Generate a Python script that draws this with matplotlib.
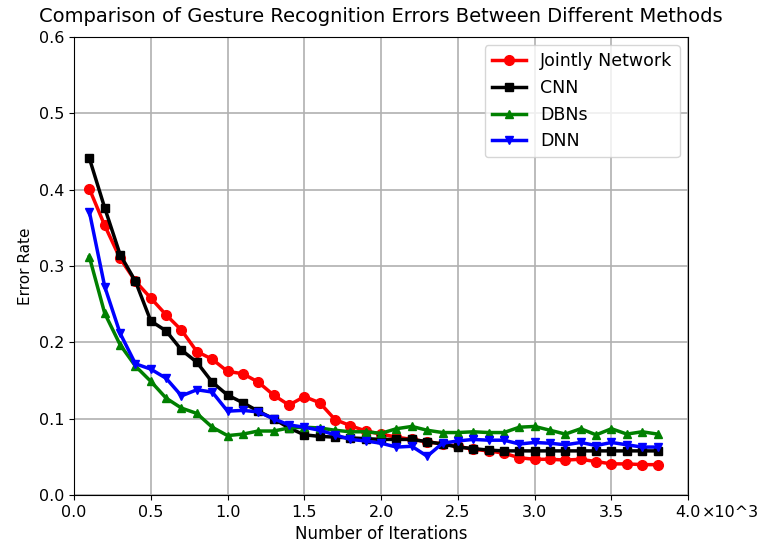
import numpy as np
import matplotlib
matplotlib.use("Agg")
import matplotlib.pyplot as plt

# iterations (x10^3)
iters = [0.1, 0.2, 0.3, 0.4, 0.5, 0.6, 0.7, 0.8, 0.9, 1.0,
         1.1, 1.2, 1.3, 1.4, 1.5, 1.6, 1.7, 1.8, 1.9, 2.0,
         2.1, 2.2, 2.3, 2.4, 2.5, 2.6, 2.7, 2.8, 2.9, 3.0,
         3.1, 3.2, 3.3, 3.4, 3.5, 3.6, 3.7, 3.8]

jointly = [0.401, 0.353, 0.310, 0.280, 0.258, 0.236, 0.216, 0.188, 0.178, 0.162,
           0.159, 0.148, 0.131, 0.118, 0.129, 0.121, 0.099, 0.091, 0.084, 0.080,
           0.076, 0.073, 0.070, 0.067, 0.064, 0.060, 0.058, 0.055, 0.049, 0.047,
           0.047, 0.046, 0.047, 0.044, 0.041, 0.041, 0.040, 0.040]

cnn = [0.441, 0.376, 0.315, 0.280, 0.228, 0.215, 0.190, 0.174, 0.148, 0.131,
       0.121, 0.110, 0.100, 0.088, 0.079, 0.077, 0.076, 0.075, 0.074, 0.073,
       0.073, 0.073, 0.070, 0.067, 0.063, 0.061, 0.059, 0.058, 0.058, 0.058,
       0.058, 0.058, 0.058, 0.058, 0.058, 0.058, 0.058, 0.058]

dbns = [0.312, 0.238, 0.197, 0.169, 0.149, 0.127, 0.114, 0.107, 0.089, 0.078,
        0.080, 0.084, 0.084, 0.088, 0.089, 0.088, 0.085, 0.083, 0.083, 0.081,
        0.087, 0.090, 0.085, 0.082, 0.082, 0.083, 0.082, 0.082, 0.089, 0.090,
        0.085, 0.080, 0.087, 0.079, 0.087, 0.080, 0.083, 0.080]

dnn = [0.371, 0.273, 0.212, 0.172, 0.165, 0.153, 0.130, 0.138, 0.135, 0.110,
       0.111, 0.109, 0.100, 0.092, 0.089, 0.085, 0.079, 0.073, 0.071, 0.068,
       0.063, 0.064, 0.051, 0.068, 0.071, 0.073, 0.072, 0.072, 0.067, 0.069,
       0.068, 0.066, 0.069, 0.065, 0.069, 0.066, 0.063, 0.063]

xtick_vals = [0.0, 0.5, 1.0, 1.5, 2.0, 2.5, 3.0, 3.5, 4.0]
xtick_labels = ["0.0", "0.5", "1.0", "1.5", "2.0", "2.5", "3.0", "3.5", "4.0"]

fig = plt.figure(figsize=(7.63, 5.49), dpi=100)
ax = fig.add_axes([0.097, 0.098, 0.805, 0.835])

ax.plot(iters, jointly, color="red", marker="o", lw=2.5, ms=7, label="Jointly Network")
ax.plot(iters, cnn, color="black", marker="s", lw=2.5, ms=6, label="CNN")
ax.plot(iters, dbns, color="green", marker="^", lw=2.5, ms=6, label="DBNs")
ax.plot(iters, dnn, color="blue", marker="v", lw=2.5, ms=6, label="DNN")

ax.set_xlim(0, 4.0)
ax.set_ylim(0, 0.6)
ax.set_xticks(xtick_vals)
ax.set_xticklabels(xtick_labels)
ax.set_yticks([0.0, 0.1, 0.2, 0.3, 0.4, 0.5, 0.6])
ax.tick_params(labelsize=11.5)
# offset multiplier written right after the last tick label
ax.annotate("\u00d710^3", xy=(1.0, 0.0), xycoords="axes fraction",
            xytext=(10, -7), textcoords="offset points",
            fontsize=11.5, va="top", ha="left")
ax.grid(True, color="#b0b0b0", lw=1.2)

ax.set_title("Comparison of Gesture Recognition Errors Between Different Methods",
             fontsize=14, pad=11)
ax.set_xlabel("Number of Iterations", fontsize=12)
ax.set_ylabel("Error Rate", fontsize=11)
ax.legend(loc="upper right", fontsize=12.5)

fig.savefig("out.png", dpi=100)
